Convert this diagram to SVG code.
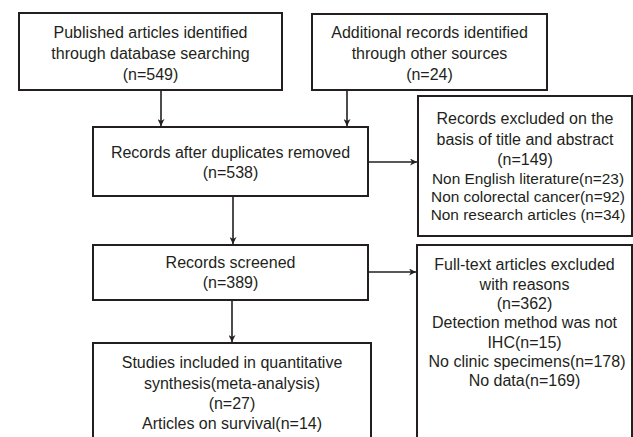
<svg xmlns="http://www.w3.org/2000/svg" width="633" height="437" viewBox="0 0 633 437">
<defs>
<marker id="ah" viewBox="0 0 10 10" refX="10" refY="5" markerWidth="7" markerHeight="7" markerUnits="userSpaceOnUse" orient="auto">
<path d="M0,0 L10,5 L0,10 L3,5 Z" fill="#231f20"/>
</marker>
<style>
.box{fill:#fff;stroke:#231f20;stroke-width:2}
.t{font-family:"Liberation Sans",Arial,sans-serif;font-size:16px;fill:#231f20;text-anchor:middle}
.s{font-size:15.4px}
.c{fill:none;stroke:#231f20;stroke-width:1.6;marker-end:url(#ah)}
</style>
</defs>
<rect width="633" height="437" fill="#fff"/>
<g id="connectors">
<line class="c" x1="161" y1="90" x2="161" y2="126"/>
<line class="c" x1="347" y1="90" x2="347" y2="126"/>
<line class="c" x1="368" y1="162" x2="417" y2="162"/>
<line class="c" x1="233" y1="196" x2="233" y2="244"/>
<line class="c" x1="368" y1="272" x2="416" y2="272"/>
<line class="c" x1="232" y1="300" x2="232" y2="342"/>
</g>
<g id="n1">
<rect class="box" x="19" y="13" width="263" height="77"/>
<text class="t" x="150.5" y="38">Published articles identified</text>
<text class="t" x="150.5" y="59">through database searching</text>
<text class="t" x="150.5" y="80">(n=549)</text>
</g>
<g id="n2">
<rect class="box" x="312" y="14" width="235" height="76"/>
<text class="t" x="429.5" y="38">Additional records identified</text>
<text class="t" x="429.5" y="59">through other sources</text>
<text class="t" x="429.5" y="80">(n=24)</text>
</g>
<g id="n3">
<rect class="box" x="93" y="127" width="275" height="69"/>
<text class="t" x="230.5" y="158">Records after duplicates removed</text>
<text class="t" x="230.5" y="178">(n=538)</text>
</g>
<g id="n4">
<rect class="box" x="418" y="96" width="214" height="140"/>
<text class="t" x="525" y="124">Records excluded on the</text>
<text class="t" x="525" y="145">basis of title and abstract</text>
<text class="t" x="525" y="165">(n=149)</text>
<text class="t s" x="528" y="184">Non English literature(n=23)</text>
<text class="t s" x="528" y="202">Non colorectal cancer(n=92)</text>
<text class="t s" x="528" y="220">Non research articles (n=34)</text>
</g>
<g id="n5">
<rect class="box" x="93" y="245" width="275" height="55"/>
<text class="t" x="230.5" y="268">Records screened</text>
<text class="t" x="230.5" y="288">(n=389)</text>
</g>
<g id="n6">
<rect class="box" x="93" y="343" width="278" height="110"/>
<text class="t" x="232" y="368">Studies included in quantitative</text>
<text class="t" x="232" y="389">synthesis(meta-analysis)</text>
<text class="t" x="232" y="409">(n=27)</text>
<text class="t" x="232" y="429">Articles on survival(n=14)</text>
</g>
<g id="n7">
<rect class="box" x="417" y="245" width="215" height="210"/>
<text class="t" x="524.5" y="270">Full-text articles excluded</text>
<text class="t" x="524.5" y="290">with reasons</text>
<text class="t" x="524.5" y="309">(n=362)</text>
<text class="t" x="524.5" y="328">Detection method was not</text>
<text class="t" x="524.5" y="348">IHC(n=15)</text>
<text class="t" x="527" y="367">No clinic specimens(n=178)</text>
<text class="t" x="524.5" y="386">No data(n=169)</text>
</g>
</svg>
